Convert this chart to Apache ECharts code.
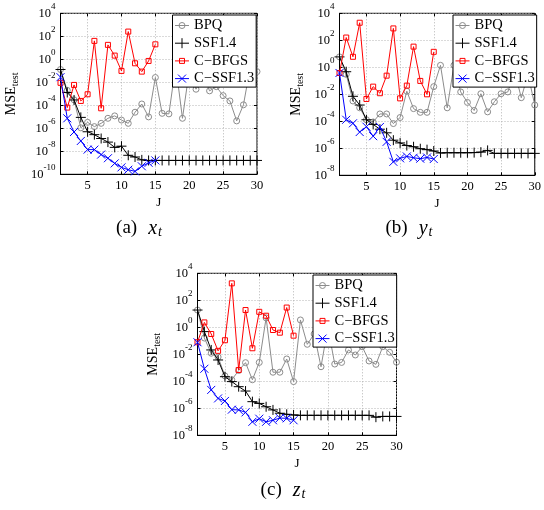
<!DOCTYPE html>
<html>
<head>
<meta charset="utf-8">
<script src="https://cdn.jsdelivr.net/npm/echarts@6/dist/echarts.min.js"></script>
<style>
html, body { margin: 0; padding: 0; background: #fff; }
#chart { width: 544px; height: 510px; }
</style>
</head>
<body>
<div id="chart"></div>
<script>
// Number of hidden units J
const J = [1, 2, 3, 4, 5, 6, 7, 8, 9, 10, 11, 12, 13, 14, 15,
           16, 17, 18, 19, 20, 21, 22, 23, 24, 25, 26, 27, 28, 29, 30];
const J15 = [1, 2, 3, 4, 5, 6, 7, 8, 9, 10, 11, 12, 13, 14, 15];

const xTicks = [5, 10, 15, 20, 25, 30];
const yTicksX = [1e-10, 1e-8, 1e-6, 1e-4, 1e-2, 1e0, 1e2, 1e4];
const yTicksYZ = [1e-8, 1e-6, 1e-4, 1e-2, 1e0, 1e2, 1e4];

const seriesNames = ['BPQ', 'SSF1.4', 'C\u2212BFGS', 'C\u2212SSF1.3'];
const captions = ['(a)', '(b)', '(c)'];
const captionVars = ['x', 'y', 'z'];

// ---- x_t : test MSE ----
const bpqX = [1.3e-1, 2e-3, 3e-4, 1.1e-6, 3.3e-6, 1.4e-6, 2.7e-6, 7.4e-6, 1.2e-5, 5.2e-6,
              2.7e-6, 2.5e-5, 1.3e-4, 9.8e-6, 2.6e-2, 2e-5, 1.8e-5, 3e-1, 7.4e-6, 1e-1,
              2.5e-3, 5e-2, 1.8e-3, 4.2e-3, 6.9e-4, 2.4e-4, 4.4e-6, 1.1e-4, 2e-1, 8.5e-2];
const ssfX = [1.3e-1, 1.3e-3, 2.9e-4, 8.9e-6, 5e-7, 2.8e-7, 1.3e-7, 6.3e-8, 2.2e-8, 2.8e-8,
              4.5e-9, 3.2e-9, 1.8e-9, 1.6e-9, 1.6e-9, 1.6e-9, 1.6e-9, 1.6e-9, 1.6e-9, 1.6e-9,
              1.6e-9, 1.6e-9, 1.6e-9, 1.6e-9, 1.6e-9, 1.6e-9, 1.6e-9, 1.6e-9, 1.6e-9, 1.6e-9];
const bfgsX = [9e-3, 6.3e-5, 5.9e-3, 2.4e-4, 9.1e-4, 40, 5.5e-5, 18, 2.1, 9.8e-2,
               257, 4.5e-1, 8.5e-2, 7.2e-1, 20];
const cssfX = [2.8e-2, 7.4e-6, 4.8e-7, 7.9e-8, 1.4e-8, 1.4e-8, 5.2e-9, 2.5e-9, 8.9e-10, 4e-10,
               2.5e-10, 1.8e-10, 5e-10, 1e-9, 1.6e-9];

// ---- y_t : test MSE ----
const bpqY = [5.9, 3e-1, 3.2e-3, 1e-3, 1.3e-4, 8.9e-5, 3.5e-4, 3.5e-4, 6.8e-5, 1.9e-4,
              1.7e-2, 8.7e-4, 4.6e-4, 4.6e-4, 3.7e-2, 1.4, 1e-3, 1.4, 1.5e-2, 2.5e-3,
              6.3e-4, 1.1e-2, 5e-4, 2.8e-3, 1.1e-2, 1.5e-2, 5e-1, 5.6e-3, 3e-1, 1.6e-3];
const ssfY = [5.9, 4.7e-1, 7.1e-3, 1.6e-3, 1.3e-4, 5.9e-5, 2.6e-5, 1.4e-5, 4e-6, 2.5e-6,
              1.6e-6, 1.3e-6, 9.3e-7, 7.9e-7, 6.3e-7, 4.5e-7, 4.7e-7, 4.7e-7, 4.7e-7, 4.7e-7,
              4.8e-7, 5.2e-7, 7e-7, 4.2e-7, 4.2e-7, 4.2e-7, 4.2e-7, 4.2e-7, 4.2e-7, 4.2e-7];
const bfgsY = [3.8e-1, 160, 6, 2000, 4.5e-3, 3.7e-2, 1.2e-2, 2.4e-1, 760, 5e-3,
               4.4e-2, 34, 9.8e-2, 1e-2, 14];
const cssfY = [3.8e-1, 1.3e-4, 7.1e-5, 1.6e-5, 4e-5, 7.9e-6, 3.8e-5, 3e-6, 1e-7, 1.8e-7,
               2.5e-7, 2e-7, 1.7e-7, 2.1e-7, 1.6e-7];

// ---- z_t : test MSE ----
const bpqZ = [19, 1.6e-1, 1.2e-2, 6.3e-3, 2.5e-4, 1.3e-4, 6.3e-4, 2.4e-3, 1.3e-4, 2.5e-3,
              5, 4.7e-4, 4.7e-4, 4.5e-3, 9.5e-5, 3.5, 5.5e-2, 3.2e-1, 1.2e-3, 1,
              1.9e-3, 2.5e-3, 2.1e-2, 8.9e-3, 3.7e-2, 3.2e-3, 1.8e-3, 3.7e-2, 1.4e-2, 2.6e-3];
const ssfZ = [19, 4.8e-1, 2.1e-2, 3.8e-3, 2.2e-4, 9.5e-5, 4e-5, 1.9e-5, 3.1e-6, 2.3e-6,
              1.3e-6, 7.6e-7, 4.3e-7, 3.6e-7, 3.2e-7, 3e-7, 3e-7, 3e-7, 3e-7, 3e-7,
              3e-7, 3e-7, 3e-7, 3e-7, 3e-7, 3e-7, 2.2e-7, 2.5e-7, 2.5e-7, 2.5e-7];
const bfgsZ = [7.8e-2, 2.3, 3.2e-1, 1.8e-2, 1.1e-1, 1800, 6.9e-4, 19, 2.8e-2, 14,
               7.2, 6.3e-1, 4e-1, 29, 2.4e-1];
const cssfZ = [7.8e-2, 8.5e-4, 2.3e-5, 5.4e-6, 3.5e-6, 7.9e-7, 7.6e-7, 5e-7, 1e-7, 1.7e-7,
               1e-7, 1.3e-7, 1.9e-7, 1.8e-7, 1.3e-7];

const SERIF = '"Liberation Serif", "Times New Roman", serif';

// marker / line look of each method; "key" is the legend swatch (line + marker, 14x10 box)
const STYLE = {
  'BPQ':        { color: '#8c8c8c', symbol: 'circle', size: 6,
                  key: 'path://M0,0M14,10M0,5L14,5M10,5A3,3,0,1,1,4,5A3,3,0,1,1,10,5' },
  'SSF1.4':     { color: '#000000', symbol: 'path://M5,0L5,10M0,5L10,5', size: 10,
                  key: 'path://M0,0M14,10M0,5L14,5M7,0L7,10' },
  'C\u2212BFGS':   { color: '#ff0000', symbol: 'rect', size: 5,
                  key: 'path://M0,0M14,10M0,5L14,5M4.5,2.5L9.5,2.5L9.5,7.5L4.5,7.5Z' },
  'C\u2212SSF1.3': { color: '#0000ff', symbol: 'path://M0,0L10,10M10,0L0,10', size: 8,
                  key: 'path://M0,0M14,10M0,5L14,5M3,1L11,9M11,1L3,9' }
};

const panels = [
  { grid: { left: 60.5, top: 13.3, width: 196.5, height: 161 },
    yMin: 1e-10, yTicks: yTicksX, nameGap: 40,
    data: [bpqX, ssfX, bfgsX, cssfX],
    legend: { left: 172.5, top: 15 },
    caption: { x: 139, y: 229 } },
  { grid: { left: 339.5, top: 13.3, width: 198, height: 162 },
    yMin: 1e-8, yTicks: yTicksYZ, nameGap: 34,
    data: [bpqY, ssfY, bfgsY, cssfY],
    legend: { left: 453, top: 15 },
    caption: { x: 409, y: 229 } },
  { grid: { left: 197.5, top: 273.3, width: 199, height: 162 },
    yMin: 1e-8, yTicks: yTicksYZ, nameGap: 35,
    data: [bpqZ, ssfZ, bfgsZ, cssfZ],
    legend: { left: 313, top: 275 },
    caption: { x: 283, y: 491 } }
];

const gridLine = { show: true, lineStyle: { color: '#b4b4b4', width: 1, type: [1, 2] } };
const black = { color: '#000', width: 1 };

function expLabel(v) {
  const e = Math.round(Math.log10(v));
  return '{b|10}{e|' + e + '}';
}

const option = {
  animation: false,
  backgroundColor: '#fff',
  grid: [], xAxis: [], yAxis: [], series: [], legend: [], graphic: []
};

panels.forEach((p, gi) => {
  option.grid.push(Object.assign({ show: true, borderColor: '#000', borderWidth: 1,
                                   backgroundColor: '#fff' }, p.grid));
  option.xAxis.push({
    type: 'value', gridIndex: gi, min: 1, max: 30,
    axisLine: { show: true, onZero: false, lineStyle: black },
    axisTick: { show: true, inside: true, length: 3, lineStyle: black, customValues: xTicks },
    axisLabel: { customValues: xTicks, color: '#000', fontFamily: SERIF, fontSize: 12.5, margin: 5 },
    splitLine: gridLine,
    name: 'J', nameLocation: 'middle', nameGap: 22,
    nameTextStyle: { color: '#000', fontFamily: SERIF, fontSize: 13, verticalAlign: 'top' }
  });
  option.yAxis.push({
    type: 'log', logBase: 10, gridIndex: gi, min: p.yMin, max: 1e4,
    axisLine: { show: true, lineStyle: black },
    axisTick: { show: true, inside: true, length: 3, lineStyle: black, customValues: p.yTicks },
    axisLabel: {
      customValues: p.yTicks, formatter: expLabel, margin: 5,
      rich: {
        b: { fontFamily: SERIF, fontSize: 12.5, color: '#000', lineHeight: 22 },
        e: { fontFamily: SERIF, fontSize: 9, color: '#000', lineHeight: 10, verticalAlign: 'top' }
      }
    },
    splitLine: gridLine,
    name: '{m|MSE}{t|test}', nameLocation: 'middle', nameRotate: 90, nameGap: p.nameGap,
    nameTextStyle: {
      rich: {
        m: { fontFamily: SERIF, fontSize: 14, color: '#000', lineHeight: 16, verticalAlign: 'top' },
        t: { fontFamily: SERIF, fontSize: 10, color: '#000', lineHeight: 10,
             padding: [9, 0, 0, 0], verticalAlign: 'bottom' }
      }
    }
  });
  seriesNames.forEach((name, si) => {
    const st = STYLE[name];
    const vals = p.data[si];
    const xs = vals.length === J.length ? J : J15;
    option.series.push({
      type: 'line', name: name, xAxisIndex: gi, yAxisIndex: gi,
      data: vals.map((v, i) => [xs[i], v]),
      symbol: st.symbol, symbolSize: st.size, showSymbol: true, showAllSymbol: true,
      lineStyle: { color: st.color, width: 1 },
      itemStyle: { color: 'rgba(0,0,0,0)', borderColor: st.color, borderWidth: 1 },
      emphasis: { disabled: true }, silent: true, z: 2 + si
    });
  });
  option.legend.push({
    orient: 'vertical', left: p.legend.left, top: p.legend.top,
    data: seriesNames.map(n => ({ name: n, icon: STYLE[n].key })),
    selectedMode: false,
    backgroundColor: '#fff', borderColor: '#000', borderWidth: 1, borderRadius: 0,
    padding: [3, 2, 1, 2], itemWidth: 14, itemHeight: 10, itemGap: 2.7,
    itemStyle: { borderWidth: 1 },
    textStyle: { fontFamily: SERIF, fontSize: 14.5, color: '#000', lineHeight: 14 },
    z: 10
  });
  option.graphic.push({
    type: 'text', x: p.caption.x, y: p.caption.y, z: 10,
    style: {
      text: '{n|' + captions[gi] + '}{v|' + captionVars[gi] + '}{s|t}',
      align: 'center', verticalAlign: 'middle',
      rich: {
        n: { fontFamily: SERIF, fontSize: 19, fill: '#000', lineHeight: 20, verticalAlign: 'top' },
        v: { fontFamily: SERIF, fontSize: 20, fontStyle: 'italic', fill: '#000', lineHeight: 20,
             verticalAlign: 'top', padding: [0, 1, 0, 11] },
        s: { fontFamily: SERIF, fontSize: 14, fontStyle: 'italic', fill: '#000', lineHeight: 12,
             padding: [11, 0, 0, 0], verticalAlign: 'bottom' }
      }
    }
  });
});

// tick marks on the top and right edges of every box
panels.forEach((p, gi) => {
  option.xAxis.push({
    type: 'value', gridIndex: gi, min: 1, max: 30, position: 'top',
    axisLine: { show: false },
    axisTick: { show: true, inside: true, length: 3, lineStyle: black, customValues: xTicks },
    axisLabel: { show: false }, splitLine: { show: false }
  });
  option.yAxis.push({
    type: 'log', logBase: 10, gridIndex: gi, min: p.yMin, max: 1e4, position: 'right',
    axisLine: { show: false },
    axisTick: { show: true, inside: true, length: 3, lineStyle: black, customValues: p.yTicks },
    axisLabel: { show: false }, splitLine: { show: false }
  });
});

const chart = echarts.init(document.getElementById('chart'), null, { renderer: 'canvas' });
chart.setOption(option);
</script>
</body>
</html>
